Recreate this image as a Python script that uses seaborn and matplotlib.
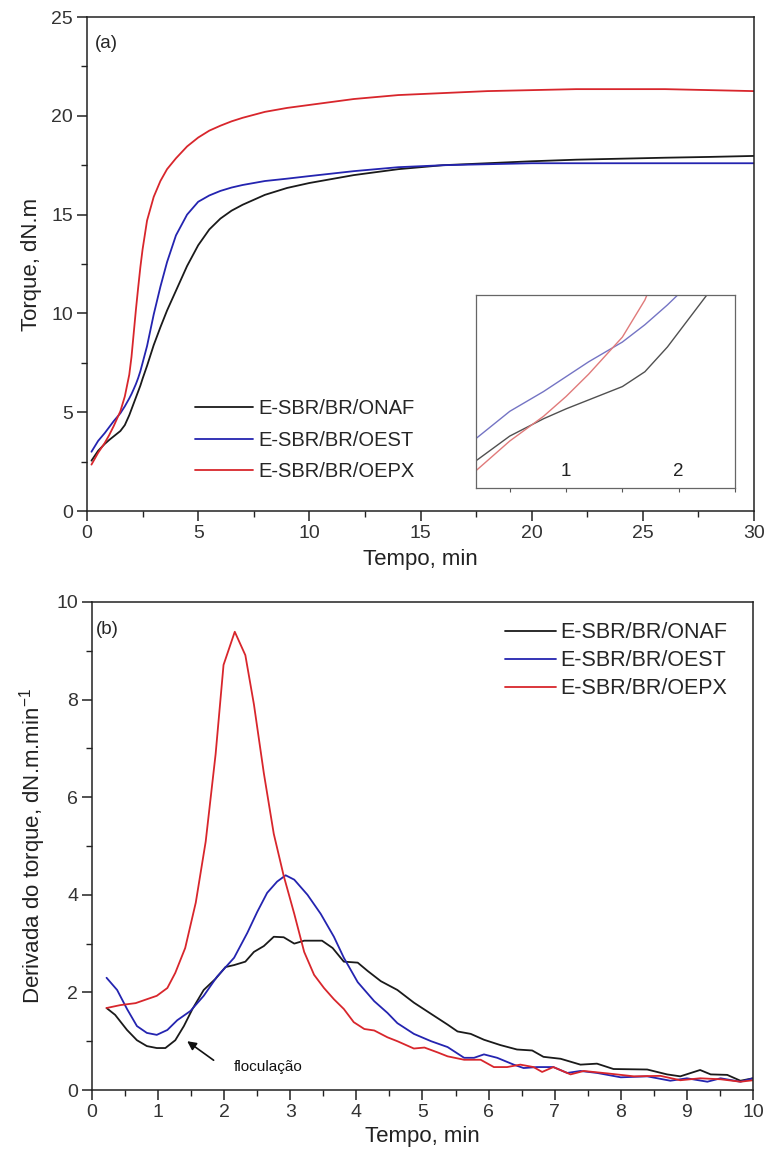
import numpy as np
import pandas as pd
import matplotlib
matplotlib.use("Agg")
import matplotlib.pyplot as plt
import seaborn as sns

# ---------------- data: panel (a) torque ----------------
tempo_a = [0.2, 0.5, 0.8, 1.0, 1.2, 1.5, 1.7, 1.9, 2.0, 2.1, 2.2, 2.3, 2.4, 2.5, 2.7,
           3.0, 3.3, 3.6, 4.0, 4.5, 5, 5.5, 6, 6.5, 7, 8, 9, 10, 12, 14, 16, 18, 20, 22, 24,
           26, 28, 30]
torque_onaf = [2.55, 3.05, 3.4, 3.6, 3.78, 4.05, 4.35, 4.85, 5.15, 5.45, 5.75, 6.05, 6.35, 6.7, 7.35,
               8.4, 9.3, 10.15, 11.15, 12.4, 13.45, 14.25, 14.8, 15.2, 15.5, 16.0, 16.35, 16.6, 17.0,
               17.3, 17.5, 17.6, 17.7, 17.78, 17.83, 17.88, 17.92, 17.97]
torque_oest = [3.0, 3.55, 3.95, 4.25, 4.55, 4.95, 5.3, 5.7, 5.92, 6.17, 6.43, 6.73, 7.08, 7.5, 8.35,
               9.95, 11.35, 12.6, 13.95, 15.0, 15.65, 15.97, 16.2, 16.37, 16.5, 16.7, 16.82, 16.95,
               17.2, 17.4, 17.5, 17.55, 17.6, 17.6, 17.6, 17.6, 17.6, 17.6]
torque_oepx = [2.35, 2.95, 3.45, 3.85, 4.3, 5.05, 5.8, 6.9, 7.8, 9.0, 10.2, 11.3, 12.35, 13.25, 14.7,
               15.9, 16.7, 17.3, 17.85, 18.45, 18.9, 19.25, 19.5, 19.72, 19.9, 20.2, 20.4, 20.55,
               20.85, 21.05, 21.15, 21.25, 21.3, 21.35, 21.35, 21.35, 21.3, 21.25]

# ---------------- data: panel (b) derivative ----------------
tempo_b_onaf = [0.22, 0.35, 0.53, 0.68, 0.83, 0.98, 1.11, 1.26, 1.39, 1.52, 1.69, 1.87, 2.02, 2.15,
                2.32, 2.45, 2.60, 2.75, 2.90, 3.06, 3.21, 3.48, 3.64, 3.81, 4.02, 4.17, 4.37, 4.62,
                4.87, 5.13, 5.38, 5.53, 5.73, 5.93, 6.18, 6.43, 6.66, 6.83, 7.09, 7.39, 7.64, 7.89,
                8.40, 8.70, 8.90, 9.20, 9.36, 9.61, 9.81, 10.0]
deriv_onaf = [1.68, 1.54, 1.23, 1.02, 0.90, 0.86, 0.86, 1.02, 1.31, 1.66, 2.05, 2.28, 2.52, 2.56,
              2.63, 2.83, 2.95, 3.14, 3.13, 3.00, 3.06, 3.06, 2.91, 2.63, 2.61, 2.44, 2.23, 2.05,
              1.79, 1.56, 1.34, 1.20, 1.15, 1.03, 0.92, 0.83, 0.81, 0.68, 0.64, 0.52, 0.54, 0.43,
              0.42, 0.32, 0.28, 0.41, 0.32, 0.31, 0.19, 0.24]
tempo_b_oest = [0.22, 0.38, 0.53, 0.68, 0.83, 0.98, 1.14, 1.29, 1.49, 1.69, 1.89, 2.15, 2.35, 2.50,
                2.65, 2.80, 2.93, 3.06, 3.26, 3.46, 3.66, 3.81, 4.02, 4.27, 4.47, 4.62, 4.87, 5.13,
                5.38, 5.63, 5.78, 5.93, 6.13, 6.38, 6.53, 6.73, 6.98, 7.19, 7.39, 7.64, 8.0, 8.40,
                8.75, 9.0, 9.31, 9.51, 9.81, 10.0]
deriv_oest = [2.30, 2.05, 1.66, 1.31, 1.17, 1.13, 1.23, 1.43, 1.62, 1.93, 2.32, 2.71, 3.22, 3.65,
              4.04, 4.27, 4.40, 4.31, 4.00, 3.61, 3.14, 2.71, 2.21, 1.82, 1.58, 1.37, 1.15, 1.00,
              0.88, 0.66, 0.66, 0.73, 0.66, 0.52, 0.45, 0.47, 0.47, 0.35, 0.39, 0.35, 0.26, 0.28,
              0.19, 0.24, 0.17, 0.24, 0.17, 0.24]
tempo_b_oepx = [0.22, 0.43, 0.66, 0.83, 0.98, 1.14, 1.26, 1.41, 1.57, 1.72, 1.87, 1.99, 2.16, 2.32,
                2.45, 2.60, 2.75, 2.90, 3.06, 3.21, 3.36, 3.51, 3.66, 3.81, 3.96, 4.12, 4.27, 4.47,
                4.62, 4.87, 5.03, 5.23, 5.38, 5.63, 5.88, 6.08, 6.28, 6.48, 6.68, 6.81, 6.98, 7.24,
                7.44, 7.80, 8.20, 8.60, 8.90, 9.20, 9.51, 9.81, 10.0]
deriv_oepx = [1.68, 1.74, 1.78, 1.86, 1.93, 2.09, 2.40, 2.91, 3.84, 5.09, 6.88, 8.71, 9.39, 8.91,
              7.90, 6.49, 5.25, 4.39, 3.61, 2.83, 2.36, 2.09, 1.86, 1.66, 1.39, 1.25, 1.22, 1.08,
              1.00, 0.85, 0.87, 0.77, 0.69, 0.62, 0.62, 0.47, 0.47, 0.52, 0.47, 0.37, 0.47, 0.32,
              0.39, 0.34, 0.28, 0.29, 0.20, 0.24, 0.22, 0.17, 0.20]

series_names = ["E-SBR/BR/ONAF", "E-SBR/BR/OEST", "E-SBR/BR/OEPX"]
colors = ["#1a1a1a", "#2424b0", "#d8262c"]
inset_colors = ["#505050", "#7474c4", "#e07a7a"]

df_a = pd.concat([
    pd.DataFrame({"t": tempo_a, "v": torque_onaf, "s": series_names[0]}),
    pd.DataFrame({"t": tempo_a, "v": torque_oest, "s": series_names[1]}),
    pd.DataFrame({"t": tempo_a, "v": torque_oepx, "s": series_names[2]}),
], ignore_index=True)
df_b = pd.concat([
    pd.DataFrame({"t": tempo_b_onaf, "v": deriv_onaf, "s": series_names[0]}),
    pd.DataFrame({"t": tempo_b_oest, "v": deriv_oest, "s": series_names[1]}),
    pd.DataFrame({"t": tempo_b_oepx, "v": deriv_oepx, "s": series_names[2]}),
], ignore_index=True)

sns.set_theme(style="ticks")
plt.rcParams["font.family"] = ["Liberation Sans", "DejaVu Sans"]
plt.rcParams["mathtext.fontset"] = "custom"
plt.rcParams["mathtext.rm"] = "Liberation Sans"
plt.rcParams["mathtext.it"] = "Liberation Sans"
plt.rcParams["axes.edgecolor"] = "#222222"
plt.rcParams["axes.linewidth"] = 1.1

fig = plt.figure(figsize=(7.66, 11.57), dpi=100)
ax1 = fig.add_axes([0.1136, 0.5583, 0.8708, 0.4270])
ax2 = fig.add_axes([0.1201, 0.0579, 0.8629, 0.4218])
axin = fig.add_axes([0.6214, 0.5782, 0.3381, 0.1668])

pal = dict(zip(series_names, colors))
pal_in = dict(zip(series_names, inset_colors))

sns.lineplot(data=df_a, x="t", y="v", hue="s", palette=pal, ax=ax1, lw=1.3,
             estimator=None, sort=False)
sns.lineplot(data=df_b, x="t", y="v", hue="s", palette=pal, ax=ax2, lw=1.3,
             estimator=None, sort=False)
sns.lineplot(data=df_a, x="t", y="v", hue="s", palette=pal_in, ax=axin, lw=1.0,
             estimator=None, sort=False, legend=False)

tick_fs = 14
for ax in (ax1, ax2):
    ax.tick_params(axis="both", which="major", direction="out", length=7, width=1.1,
                   labelsize=tick_fs, pad=3, color="#222222", labelcolor="#333333")
    ax.tick_params(axis="both", which="minor", direction="out", length=4, width=1.0,
                   color="#222222")
    for sp in ax.spines.values():
        sp.set_visible(True)

# panel (a)
ax1.set_xlim(0, 30)
ax1.set_ylim(0, 25)
ax1.set_xticks([0, 5, 10, 15, 20, 25, 30])
ax1.set_xticks(np.arange(2.5, 30, 5), minor=True)
ax1.set_yticks([0, 5, 10, 15, 20, 25])
ax1.set_yticks(np.arange(2.5, 25, 5), minor=True)
ax1.set_xlabel("Tempo, min", fontsize=16, color="#222222", labelpad=5)
ax1.set_ylabel("Torque, dN.m", fontsize=16, color="#222222", labelpad=7)
ax1.text(0.012, 0.947, "(a)", transform=ax1.transAxes, fontsize=13.5, va="center", ha="left")
leg1 = ax1.legend(loc="upper left", bbox_to_anchor=(0.162, 0.226), frameon=False,
                  fontsize=14.5, handlelength=2.9, handletextpad=0.25, labelspacing=0.62,
                  borderpad=0, borderaxespad=0)
for h in leg1.get_lines():
    h.set_linewidth(1.3)

# panel (b)
ax2.set_xlim(0, 10)
ax2.set_ylim(0, 10)
ax2.set_xticks(range(0, 11))
ax2.set_xticks(np.arange(0.5, 10, 1), minor=True)
ax2.set_yticks([0, 2, 4, 6, 8, 10])
ax2.set_yticks([1, 3, 5, 7, 9], minor=True)
ax2.set_xlabel("Tempo, min", fontsize=16, color="#222222", labelpad=4)
ax2.set_ylabel(r"Derivada do torque, dN.m.min$^{-1}$", fontsize=16, color="#222222", labelpad=6)
ax2.text(0.006, 0.943, "(b)", transform=ax2.transAxes, fontsize=13.5, va="center", ha="left")
leg2 = ax2.legend(loc="upper left", bbox_to_anchor=(0.625, 0.958), frameon=False,
                  fontsize=15.5, handlelength=2.35, handletextpad=0.22, labelspacing=0.32,
                  borderpad=0, borderaxespad=0)
for h in leg2.get_lines():
    h.set_linewidth(1.3)
ax2.annotate("", xy=(1.44, 1.0), xytext=(1.84, 0.61),
             arrowprops=dict(arrowstyle="-|>", color="#111111", lw=1.2,
                             shrinkA=0, shrinkB=0, mutation_scale=13))
ax2.text(2.15, 0.48, "floculação", fontsize=11, va="center", ha="left", color="#111111")

# inset
axin.set_xlim(0.2, 2.5)
axin.set_ylim(2.0, 5.9)
axin.set_xticks([1, 2])
axin.set_xticks([0.5, 1.5, 2.5], minor=True)
axin.set_yticks([])
axin.set_xlabel("")
axin.set_ylabel("")
axin.tick_params(axis="x", which="major", direction="out", length=3, width=0.8,
                 labelsize=13.5, pad=-21, color="#555555", labelcolor="#222222")
axin.tick_params(axis="x", which="minor", direction="out", length=3, width=0.8,
                 color="#555555")
for sp in axin.spines.values():
    sp.set_linewidth(0.9)
    sp.set_color("#666666")

fig.savefig("out.png", dpi=100)
